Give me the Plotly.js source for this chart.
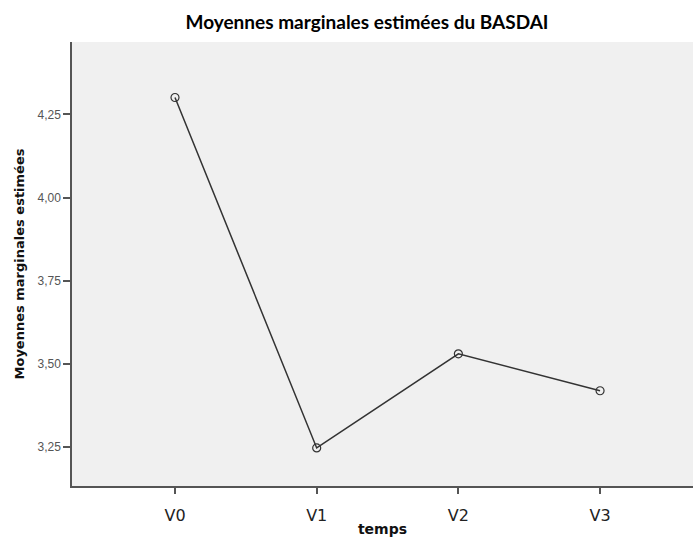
<!DOCTYPE html>
<html>
<head>
<meta charset="utf-8">
<script src="https://cdn.plot.ly/plotly-3.0.1.min.js"></script>
<style>html,body{margin:0;padding:0;background:#fff;overflow:hidden}</style>
</head>
<body>
<div id="chart" style="width:693px;height:539px"></div>
<script>
const categories = ["V0", "V1", "V2", "V3"];
const values = [4.301, 3.247, 3.530, 3.419];
const yTicks = [3.25, 3.50, 3.75, 4.00, 4.25];

const trace = {
  x: [0, 1, 2, 3],
  y: values,
  type: "scatter",
  mode: "lines+markers",
  line: {color: "#333333", width: 1.5},
  marker: {symbol: "circle-open", size: 8, color: "#333333", line: {width: 1.2}},
  hoverinfo: "x+y"
};

const layout = {
  width: 693, height: 539,
  separators: ", ",
  paper_bgcolor: "#ffffff",
  plot_bgcolor: "#f0f0f0",
  margin: {l: 72, r: 0, t: 42, b: 53},
  showlegend: false,
  title: {
    text: "<b>Moyennes marginales estimées du BASDAI</b>",
    font: {family: "Lato, 'Open Sans', sans-serif", size: 19, color: "#000"},
    x: 0.5296, xanchor: "center", y: 0.958, yanchor: "middle"
  },
  xaxis: {
    range: [-0.727, 3.656],
    tickvals: [0, 1, 2, 3],
    ticktext: categories,
    showgrid: false, zeroline: false,
    showline: true, linecolor: "#555555", linewidth: 1.5,
    ticks: "outside", ticklen: 6, tickcolor: "#555555", tickwidth: 1.5,
    ticklabelstandoff: 8,
    tickfont: {family: "'DejaVu Sans', sans-serif", size: 16, color: "#222"},
    title: {text: "<b>temps</b>", font: {family: "'DejaVu Sans', sans-serif", size: 14, color: "#111"}, standoff: 0}
  },
  yaxis: {
    range: [3.1325, 4.468],
    tickvals: yTicks,
    tickformat: ".2f",
    showgrid: false, zeroline: false,
    showline: true, linecolor: "#555555", linewidth: 1.5,
    ticks: "outside", ticklen: 7, tickcolor: "#555555", tickwidth: 1.5,
    tickfont: {family: "'Liberation Sans', Arial, sans-serif", size: 12, color: "#555"},
    title: {text: "<b>Moyennes marginales estimées</b>", font: {family: "'DejaVu Sans', sans-serif", size: 13, color: "#111"}, standoff: 10}
  }
};

Plotly.newPlot("chart", [trace], layout, {displayModeBar: false});
</script>
</body>
</html>
